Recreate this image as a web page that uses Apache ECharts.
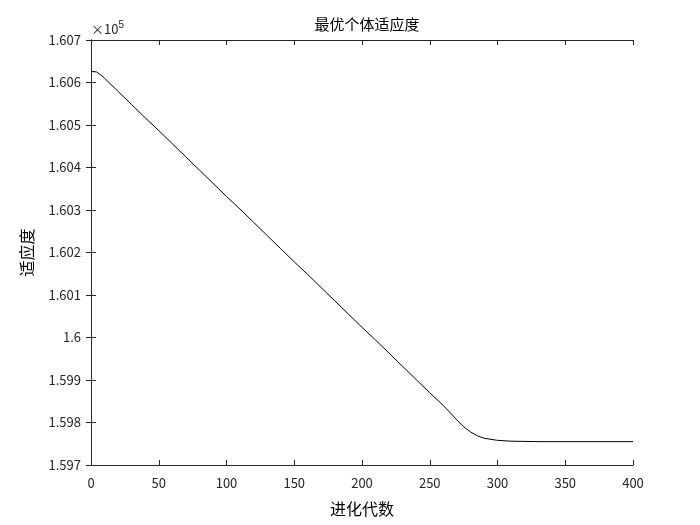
<!DOCTYPE html>
<html><head><meta charset="utf-8">
<script src="https://cdn.jsdelivr.net/npm/echarts@6/dist/echarts.min.js"></script>
<style>html,body{margin:0;padding:0;background:#fff}#c{width:700px;height:525px}</style>
</head><body><div id="c"></div>
<script>
const generations = [0,4,8,10,20,30,40,50,60,70,80,90,100,110,120,130,140,150,160,170,180,190,200,210,220,230,240,250,260,266,270,275,280,285,290,300,310,330,400];
const fitness = [1.60626,1.60625,1.60616,1.60610,1.60579,1.60548,1.60517,1.60487,1.60456,1.60425,1.60394,1.60363,1.60332,1.60302,1.60271,1.60240,1.60209,1.60178,1.60148,1.60117,1.60086,1.60055,1.60024,1.59994,1.59963,1.59932,1.59901,1.59870,1.59840,1.59820,1.59806,1.59790,1.59778,1.59769,1.59763,1.59758,1.59756,1.59755,1.59755];
const fnt = 'Noto Sans CJK SC, sans-serif';
const c = echarts.init(document.getElementById('c'));
const axLine = {show:true,lineStyle:{color:'#262626',width:1}};
const tick = {show:true,inside:true,length:5,lineStyle:{color:'#262626'}};
c.setOption({
  animation:false,
  title:{text:'最优个体适应度',left:362,top:12,textAlign:'center',textStyle:{fontFamily:fnt,fontSize:15,fontWeight:'normal',color:'#000'}},
  grid:{left:91,right:67,top:40,bottom:60},
  graphic:[{type:'text',left:91,top:20,style:{text:'×10{s|5}',rich:{s:{fontSize:10,verticalAlign:'top',padding:[0,0,8,0]}},font:'13px '+fnt,fill:'#262626'}}],
  xAxis:[
    {type:'value',min:0,max:400,interval:50,name:'进化代数',nameLocation:'middle',nameGap:36,
     nameTextStyle:{fontFamily:fnt,fontSize:16,color:'#000'},
     axisLine:axLine,axisTick:tick,splitLine:{show:false},
     axisLabel:{fontFamily:fnt,fontSize:13,color:'#262626',margin:12}},
    {type:'value',position:'top',min:0,max:400,interval:50,axisLine:axLine,axisTick:tick,axisLabel:{show:false},splitLine:{show:false}}
  ],
  yAxis:[
    {type:'value',min:1.597,max:1.607,interval:0.001,name:'适应度',nameLocation:'middle',nameGap:56,
     nameTextStyle:{fontFamily:fnt,fontSize:16,color:'#000'},
     axisLine:axLine,axisTick:tick,splitLine:{show:false},
     axisLabel:{fontFamily:fnt,fontSize:13,color:'#262626',margin:10,formatter:v=>String(Number(v.toFixed(3)))}},
    {type:'value',position:'right',min:1.597,max:1.607,interval:0.001,axisLine:axLine,axisTick:tick,axisLabel:{show:false},splitLine:{show:false}}
  ],
  series:[{type:'line',data:generations.map((g,i)=>[g,fitness[i]]),showSymbol:false,symbol:'none',
    lineStyle:{color:'#000',width:1}}]
});
</script></body></html>
